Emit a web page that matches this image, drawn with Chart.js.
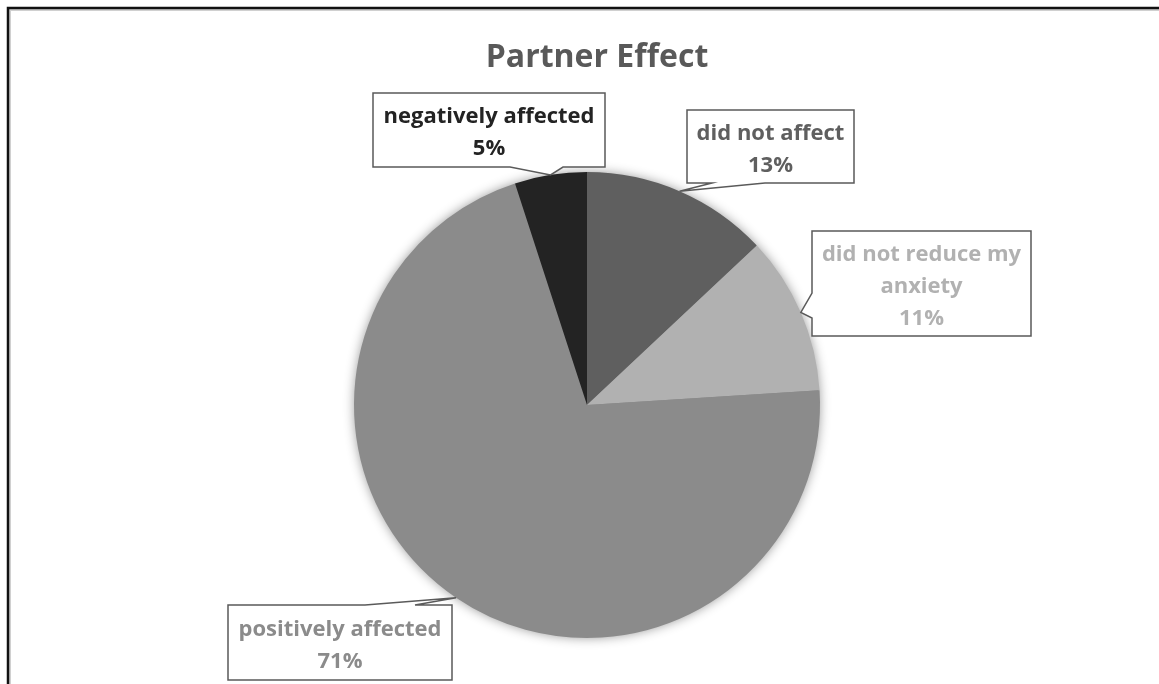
<!DOCTYPE html>
<html>
<head>
<meta charset="utf-8">
<title>Partner Effect</title>
<script src="https://cdn.jsdelivr.net/npm/chart.js@4.4.1/dist/chart.umd.min.js"></script>
<style>
    html, body { margin: 0; padding: 0; background: #fff; }
    #wrap { width: 1159px; height: 684px; }
</style>
</head>
<body>
<div id="wrap"><canvas id="partnerChart" width="1159" height="684"></canvas></div>
<script>
// chart data
const chartTitle = 'Partner Effect';
const categories = ['did not affect', 'did not reduce my anxiety', 'positively affected', 'negatively affected'];
const percentages = [13, 11, 71, 5];
const sliceColors = ['#5f5f5f', '#b1b1b1', '#8b8b8b', '#232323'];
// how each category name wraps inside its callout
const labelLines = [['did not affect'], ['did not reduce my', 'anxiety'], ['positively affected'], ['negatively affected']];

// callout box placement (left, top, right, bottom) and where the pointer leaves the box
const calloutLayout = [
    { box: [687, 110, 854, 183], side: 'bottom', base: [712, 765] },
    { box: [812, 231, 1031, 336], side: 'left', base: [293, 318] },
    { box: [228, 605, 452, 680], side: 'top', base: [365, 415] },
    { box: [373, 93, 605, 167], side: 'bottom', base: [510, 563] }
];

const FONT = '"Open Sans", Lato, sans-serif';

const framePlugin = {
    id: 'frame',
    beforeDraw(chart) {
        const ctx = chart.ctx;
        ctx.save();
        ctx.fillStyle = '#fff';
        ctx.fillRect(0, 0, chart.width, chart.height);
        // outer border, only top and left visible
        ctx.strokeStyle = '#d0d0d0';
        ctx.lineWidth = 2;
        ctx.beginPath();
        ctx.moveTo(10, chart.height);
        ctx.lineTo(10, 10);
        ctx.lineTo(chart.width, 10);
        ctx.stroke();
        ctx.strokeStyle = '#111';
        ctx.lineWidth = 2.5;
        ctx.beginPath();
        ctx.moveTo(8, chart.height);
        ctx.lineTo(8, 8);
        ctx.lineTo(chart.width, 8);
        ctx.stroke();

        ctx.fillStyle = '#595959';
        ctx.font = 'bold 32px ' + FONT;
        ctx.textAlign = 'center';
        ctx.textBaseline = 'middle';
        ctx.fillText(chartTitle, 597, 58);
        ctx.restore();
    },
    beforeDatasetsDraw(chart) {
        const arc = chart.getDatasetMeta(0).data[0];
        const ctx = chart.ctx;
        ctx.save();
        ctx.shadowColor = 'rgba(0,0,0,0.45)';
        ctx.shadowBlur = 12;
        ctx.fillStyle = '#8b8b8b';
        ctx.beginPath();
        ctx.arc(arc.x, arc.y, arc.outerRadius - 1, 0, Math.PI * 2);
        ctx.fill();
        ctx.restore();
    }
};

const calloutPlugin = {
    id: 'callouts',
    afterDatasetsDraw(chart) {
        const ctx = chart.ctx;
        const meta = chart.getDatasetMeta(0);
        ctx.save();
        meta.data.forEach(function (arc, i) {
            const lay = calloutLayout[i];
            const mid = (arc.startAngle + arc.endAngle) / 2;
            const tipX = arc.x + Math.cos(mid) * arc.outerRadius;
            const tipY = arc.y + Math.sin(mid) * arc.outerRadius;
            const [l, t, r, b] = lay.box;

            ctx.beginPath();
            ctx.moveTo(l, t);
            if (lay.side === 'top') {
                ctx.lineTo(lay.base[0], t);
                ctx.lineTo(tipX, tipY);
                ctx.lineTo(lay.base[1], t);
            }
            ctx.lineTo(r, t);
            ctx.lineTo(r, b);
            if (lay.side === 'bottom') {
                ctx.lineTo(lay.base[1], b);
                ctx.lineTo(tipX, tipY);
                ctx.lineTo(lay.base[0], b);
            }
            ctx.lineTo(l, b);
            if (lay.side === 'left') {
                ctx.lineTo(l, lay.base[1]);
                ctx.lineTo(tipX, tipY);
                ctx.lineTo(l, lay.base[0]);
            }
            ctx.closePath();
            ctx.fillStyle = '#fff';
            ctx.fill();
            ctx.strokeStyle = '#5a5a5a';
            ctx.lineWidth = 1.5;
            ctx.stroke();

            const lines = labelLines[i].concat([percentages[i] + '%']);
            const lineH = 32;
            const cx = (l + r) / 2;
            const cy = (t + b) / 2 + 3;
            ctx.fillStyle = sliceColors[i];
            ctx.font = 'bold 22px ' + FONT;
            ctx.textAlign = 'center';
            ctx.textBaseline = 'middle';
            lines.forEach(function (txt, k) {
                ctx.fillText(txt, cx, cy + (k - (lines.length - 1) / 2) * lineH);
            });
        });
        ctx.restore();
    }
};

const ctx = document.getElementById('partnerChart').getContext('2d');
const partnerChart = new Chart(ctx, {
    type: 'pie',
    data: {
        labels: categories,
        datasets: [{
            data: percentages,
            backgroundColor: sliceColors,
            borderWidth: 0,
            hoverOffset: 0
        }]
    },
    options: {
        responsive: false,
        animation: false,
        events: [],
        layout: {
            padding: { left: 354, right: 339, top: 172, bottom: 46 }
        },
        plugins: {
            legend: { display: false },
            title: { display: false },
            tooltip: { enabled: false }
        }
    },
    plugins: [framePlugin, calloutPlugin]
});
</script>
</body>
</html>
